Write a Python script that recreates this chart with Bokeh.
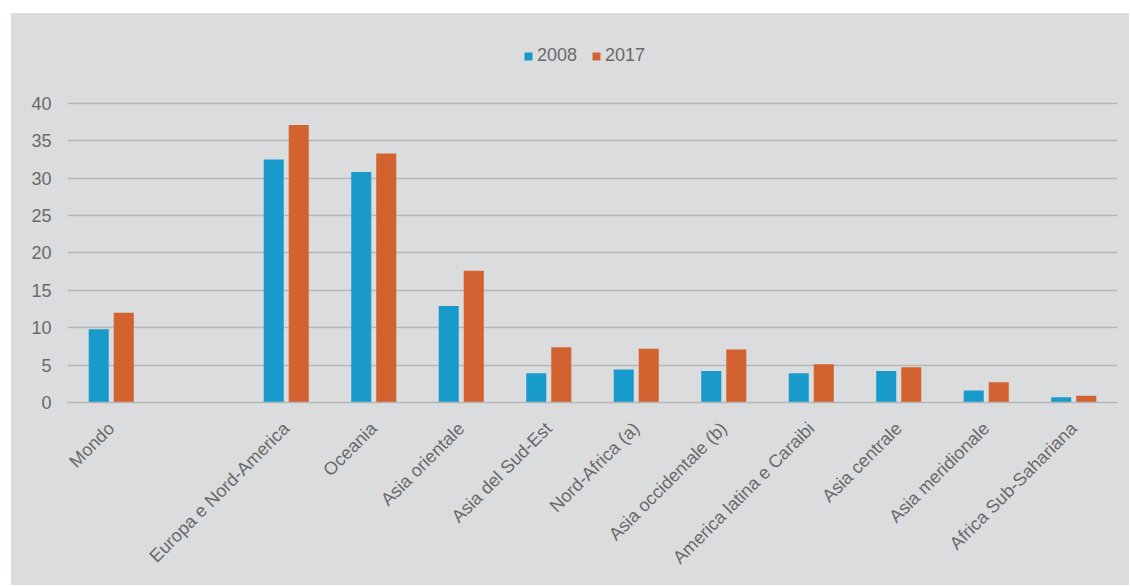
from bokeh.plotting import figure
from bokeh.models import (ColumnDataSource, FactorRange, Range1d, Legend, LegendItem,
                          FixedTicker, Spacer)
from bokeh.layouts import column, row
from bokeh.transform import dodge
from bokeh.embed import file_html
from bokeh.resources import INLINE
import math

# ---- data ----
regions = ["Mondo", "Europa e Nord-America", "Oceania", "Asia orientale",
           "Asia del Sud-Est", "Nord-Africa (a)", "Asia occidentale (b)",
           "America latina e Caraibi", "Asia centrale", "Asia meridionale",
           "Africa Sub-Sahariana"]
v2008 = [9.8, 32.5, 30.8, 12.9, 3.9, 4.4, 4.2, 3.9, 4.2, 1.6, 0.7]
v2017 = [12.0, 37.1, 33.3, 17.6, 7.4, 7.2, 7.1, 5.1, 4.7, 2.7, 0.9]
series = ["2008", "2017"]
y_ticks = [0, 5, 10, 15, 20, 25, 30, 35, 40]

# ---- style ----
BG = "#dbdcde"
BLUE = "#189bcb"
ORANGE = "#d26230"
GRID = "#b5b6b8"
TXT = "#6a6a6a"
FONT = "Liberation Sans"

factors = [regions[0], " "] + regions[1:]

src = ColumnDataSource(dict(region=regions, y2008=v2008, y2017=v2017))

p = figure(x_range=FactorRange(*factors, range_padding=0), y_range=Range1d(0, 52),
           width=1118, height=572, output_backend="svg", toolbar_location=None,
           min_border_left=56, min_border_right=12, min_border_top=0, min_border_bottom=183)
p.background_fill_color = BG
p.border_fill_color = BG
p.outline_line_color = None
p.styles = {"background-color": BG}

r1 = p.vbar(x=dodge("region", -0.143, range=p.x_range), top="y2008", width=0.229,
            source=src, fill_color=BLUE, line_color=None)
r2 = p.vbar(x=dodge("region", 0.143, range=p.x_range), top="y2017", width=0.229,
            source=src, fill_color=ORANGE, line_color=None)

p.xgrid.grid_line_color = None
p.ygrid.grid_line_color = GRID
p.ygrid.grid_line_width = 1.6
p.yaxis.ticker = FixedTicker(ticks=y_ticks)

p.yaxis.axis_line_color = None
p.yaxis.major_tick_line_color = None
p.yaxis.minor_tick_line_color = None
p.yaxis.major_tick_out = 0
p.yaxis.minor_tick_out = 0
p.yaxis.major_label_standoff = 16
p.yaxis.major_label_text_font = FONT
p.yaxis.major_label_text_font_size = "18px"
p.yaxis.major_label_text_color = TXT

p.xaxis.axis_line_color = GRID
p.xaxis.axis_line_width = 1.6
p.xaxis.major_tick_line_color = None
p.xaxis.minor_tick_line_color = None
p.xaxis.major_tick_out = 0
p.xaxis.major_label_standoff = 23
p.xaxis.major_label_orientation = math.pi / 4
p.xaxis.major_label_text_font = FONT
p.xaxis.major_label_text_font_size = "18px"
p.xaxis.major_label_text_color = TXT

legend = Legend(items=[LegendItem(label=series[0], renderers=[r1]),
                       LegendItem(label=series[1], renderers=[r2])],
                orientation="horizontal", location=(456, 336),
                glyph_width=10, glyph_height=10, label_standoff=4, spacing=14,
                padding=0, margin=0, border_line_color=None,
                background_fill_alpha=0, label_text_font=FONT,
                label_text_font_size="18px", label_text_color=TXT,
                label_height=20)
p.add_layout(legend, "center")

layout = column(Spacer(height=13), row(Spacer(width=11), p))

open("out.html", "w").write(file_html(layout, INLINE))
